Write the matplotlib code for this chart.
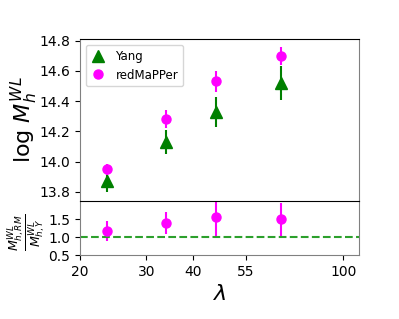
import numpy as np
import matplotlib
matplotlib.use("Agg")
from matplotlib import pyplot as plt

# richness bins (lambda)
lam = [23.6, 33.8, 46.0, 68.4]

# log halo mass from weak lensing
yang_logm = [13.87, 14.13, 14.33, 14.52]
yang_err = [0.07, 0.08, 0.10, 0.11]
rm_logm = [13.95, 14.28, 14.53, 14.70]
rm_err = [0.035, 0.06, 0.07, 0.06]

# ratio redMaPPer / Yang
ratio = [1.17, 1.39, 1.56, 1.49]
ratio_err = [0.28, 0.30, 0.53, 0.46]

xticks = [20, 30, 40, 55, 100]

fig = plt.figure(figsize=(3.99, 3.19), dpi=100)
ax2 = fig.add_axes([0.2005, 0.2006, 0.6992, 0.1693])
ax1 = fig.add_axes([0.2005, 0.3699, 0.6992, 0.5078], sharex=ax2)

ax1.errorbar(lam, yang_logm, yerr=yang_err, fmt="none", ecolor="green", elinewidth=1.5)
ax1.errorbar(lam, rm_logm, yerr=rm_err, fmt="none", ecolor="magenta", elinewidth=1.5)
ax1.plot(lam, yang_logm, "^", color="green", ms=9, ls="none", label="Yang")
ax1.plot(lam, rm_logm, "o", color="magenta", ms=6.5, ls="none", label="redMaPPer")
ax1.legend(loc="upper left", numpoints=1, fontsize=8.5, handlelength=1.3)

ax2.errorbar(lam, ratio, yerr=ratio_err, fmt="o", color="magenta", ms=6.5, elinewidth=1.5)
ax2.axhline(1.0, color="#2ca02c", ls="--", lw=1.5)

ax2.set_xscale("log")
ax2.set_xlim(20, 110)
ax1.set_ylim(13.74, 14.81)
ax1.set_yticks([13.8, 14.0, 14.2, 14.4, 14.6, 14.8])
ax1.set_ylabel(r"log $M_h^{WL}$", fontsize=16)
ax1.yaxis.set_label_coords(-0.145, 0.5)
ax1.tick_params(labelbottom=False, bottom=False, which="both")

ax2.set_ylim(0.5, 2.0)
ax2.set_yticks([0.5, 1.0, 1.5])
ax2.set_xticks(xticks)
ax2.set_xticklabels([str(t) for t in xticks])
ax2.xaxis.set_minor_locator(matplotlib.ticker.NullLocator())
ax2.set_xlabel(r"$\lambda$", fontsize=16)
ax2.spines["top"].set_visible(False)
fig.text(27 / 399, 1 - 232 / 319, r"$\frac{M^{WL}_{h,RM}}{M^{WL}_{h,Y}}$",
         fontsize=13, rotation=90, ha="center", va="center")

for ax in (ax1, ax2):
    for s in ("left", "right"):
        ax.spines[s].set_color("grey")
    ax.tick_params(labelsize=10)
ax2.spines["bottom"].set_color("grey")

fig.savefig("out.png", dpi=100)
